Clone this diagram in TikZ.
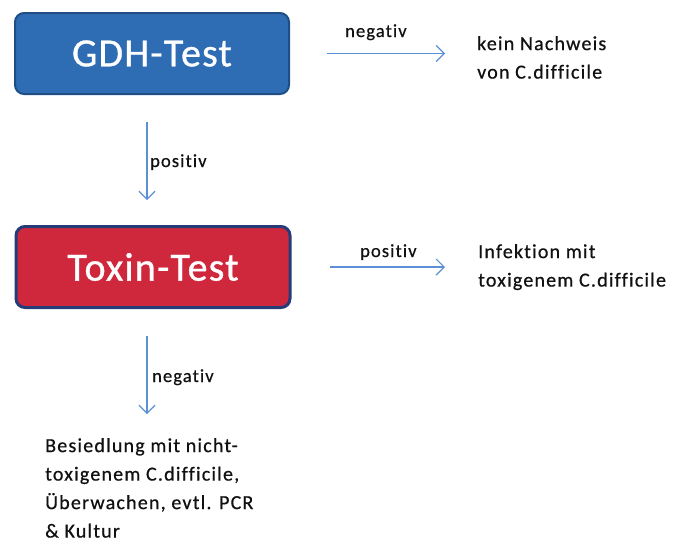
\documentclass[tikz,border=0pt]{standalone}
\usepackage{fontspec}
\setmainfont{Carlito}
\newfontfamily\smallfont[LetterSpace=6,Ligatures=NoCommon,FakeBold=0.6]{Carlito}
\newfontfamily\bigfont[LetterSpace=3,FakeBold=0.8]{Carlito}
\usetikzlibrary{arrows.meta}
\definecolor{gdhblue}{HTML}{2E6DB4}
\definecolor{gdhborder}{HTML}{1F4E85}
\definecolor{toxred}{HTML}{CF283D}
\definecolor{toxborder}{HTML}{253C78}
\definecolor{arrblue}{HTML}{5B8FD6}
\definecolor{txt}{HTML}{111111}
\begin{document}
\begin{tikzpicture}[x=1pt,y=-1pt,
  testbox/.style={rounded corners=9pt, minimum width=274pt, minimum height=81pt,
    text=white, font=\bigfont\fontsize{40}{40}\selectfont, inner sep=0pt},
  result/.style={anchor=north west, align=left, inner sep=0pt, text=txt,
    font=\smallfont\fontsize{20}{28.5}\selectfont},
  lbl/.style={anchor=base west, inner sep=0pt, text=txt,
    font=\smallfont\fontsize{18.5}{20}\selectfont},
  arr/.style={draw=arrblue, line width=1.4pt,
    -{Straight Barb[length=8pt,width=16pt,line width=1.2pt]}}]
\useasboundingbox (0,0) rectangle (684,542);
\node[testbox, fill=gdhblue, draw=gdhborder, line width=2pt] (gdh) at (152,53.5) {GDH-Test};
\node[testbox, fill=toxred, draw=toxborder, line width=3pt] (tox) at (153,267) {Toxin-Test};
\node[result] (kein) at (477,36) {kein Nachweis\\von C.difficile};
\node[result] (inf) at (478,244) {Infektion mit\\toxigenem C.difficile};
\node[result] (bes) at (45,438) {Besiedlung mit nicht-\\toxigenem C.difficile,\\Überwachen, evtl. PCR\\\& Kultur};
\draw[arr, shorten <=37pt, shorten >=32pt] (gdh.east) -- (kein.west |- gdh.east);
\draw[arr, shorten <=38pt, shorten >=33pt] (tox.east) -- (inf.west |- tox.east);
\draw[arr, shorten <=27pt, shorten >=25pt] ([xshift=-5pt]gdh.south) -- ([xshift=-6pt]tox.north);
\draw[arr, shorten <=27pt, shorten >=24pt] ([xshift=-6pt]tox.south) -- ([xshift=-6pt]tox.south |- bes.north);
\node[lbl] (lneg1) at (345,37) {negativ};
\node[lbl] (lpos1) at (150,167) {positiv};
\node[lbl] (lpos2) at (360,257) {positiv};
\node[lbl] (lneg2) at (152,382) {negativ};
\end{tikzpicture}
\end{document}
